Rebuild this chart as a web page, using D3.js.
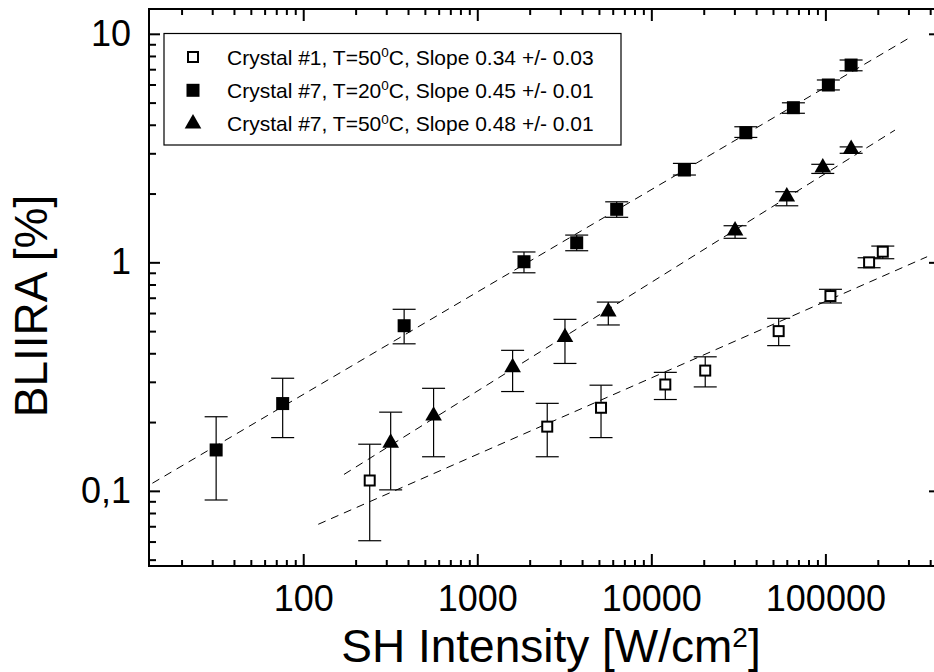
<!DOCTYPE html>
<meta charset="utf-8">
<script src="https://d3js.org/d3.v7.min.js"></script>
<style>
  body { margin: 0; background: #fff; }
  text { font-family: "Liberation Sans", Arial, sans-serif; fill: #000; }
</style>
<div id="chart"></div>
<script>

// Crystal #1, T=50C (open squares)
let c1X  = [241, 2523, 5140, 12030, 20400, 53900, 106900, 178300, 213700];
let c1Y  = [0.111, 0.191, 0.231, 0.292, 0.336, 0.500, 0.712, 1.00, 1.113];
let c1Lo = [0.0605, 0.141, 0.171, 0.251, 0.285, 0.432, 0.664, 0.947, 1.037];
let c1Hi = [0.160, 0.2415, 0.290, 0.330, 0.386, 0.569, 0.762, 1.047, 1.178];

// Crystal #7, T=20C (filled squares)
let c7aX  = [31.6, 76.2, 380, 1855, 3726, 6324, 15490, 34900, 65500, 104000, 140500];
let c7aY  = [0.151, 0.241, 0.528, 1.006, 1.218, 1.706, 2.535, 3.69, 4.75, 5.97, 7.30];
let c7aLo = [0.0912, 0.171, 0.44, 0.90, 1.124, 1.574, 2.41, 3.52, 4.49, 5.68, 6.89];
let c7aHi = [0.211, 0.311, 0.623, 1.11, 1.316, 1.84, 2.71, 3.92, 4.99, 6.28, 7.68];

// Crystal #7, T=50C (triangles)
let c7bX  = [318, 561, 1596, 3190, 5660, 30270, 60000, 96600, 140600];
let c7bY  = [0.162, 0.213, 0.347, 0.470, 0.608, 1.375, 1.937, 2.594, 3.13];
let c7bLo = [0.101, 0.141, 0.272, 0.361, 0.532, 1.274, 1.768, 2.449, 3.0];
let c7bHi = [0.221, 0.281, 0.412, 0.563, 0.670, 1.446, 2.037, 2.685, 3.2];

// fitted lines (end points)
let fit1X  = [122, 384000],  fit1Y  = [0.0714, 1.058];
let fit7aX = [13.6, 300000], fit7aY = [0.108, 9.55];
let fit7bX = [171.5, 251000], fit7bY = [0.118, 3.79];

let xMajor = [100, 1000, 10000, 100000];
let xLabels = ["100", "1000", "10000", "100000"];
let yMajor = [0.1, 1, 10];
let yLabels = ["0,1", "1", "10"];

let legendNames = [
  ["Crystal #1, T=50", "C, Slope 0.34 +/- 0.03"],
  ["Crystal #7, T=20", "C, Slope 0.45 +/- 0.01"],
  ["Crystal #7, T=50", "C, Slope 0.48 +/- 0.01"]
];

let W = 934, H = 672;
let margin = {top: 9, right: -2, bottom: 106, left: 149},
    width = W - margin.left - margin.right,
    height = H - margin.top - margin.bottom;

let svg = d3.select("#chart")
  .append("svg")
    .attr("width", W)
    .attr("height", H)
  .append("g")
    .attr("transform", "translate(" + margin.left + "," + margin.top + ")");

let x = d3.scaleLog().domain([13, 432000]).range([0, width]);
let y = d3.scaleLog().domain([0.0469, 12.84]).range([height, 0]);

let isMajor = function(v) { return Math.abs(Math.log10(v) - Math.round(Math.log10(v))) < 1e-9; };
let xMinor = x.ticks().filter(function(d) { return !isMajor(d); });
let yMinor = y.ticks().filter(function(d) { return !isMajor(d); });

function styleAxis(g) {
  g.select(".domain").remove();
  g.selectAll("line").attr("stroke", "#000").attr("stroke-width", 2);
}

// bottom axis
svg.append("g").attr("transform", "translate(0," + height + ")")
  .call(d3.axisBottom(x).tickValues(xMinor).tickSizeInner(-6).tickSizeOuter(0).tickFormat(""))
  .call(styleAxis);
svg.append("g").attr("transform", "translate(0," + height + ")")
  .call(d3.axisBottom(x).tickValues(xMajor).tickSizeInner(-12).tickSizeOuter(0).tickPadding(19)
        .tickFormat(function(d, i) { return xLabels[i]; }))
  .call(styleAxis)
  .selectAll("text").attr("font-size", 36);

// top axis
svg.append("g")
  .call(d3.axisTop(x).tickValues(xMinor).tickSizeInner(-6).tickSizeOuter(0).tickFormat(""))
  .call(styleAxis);
svg.append("g")
  .call(d3.axisTop(x).tickValues(xMajor).tickSizeInner(-12).tickSizeOuter(0).tickFormat(""))
  .call(styleAxis);

// left axis
svg.append("g")
  .call(d3.axisLeft(y).tickValues(yMinor).tickSizeInner(-7).tickSizeOuter(0).tickFormat(""))
  .call(styleAxis);
svg.append("g")
  .call(d3.axisLeft(y).tickValues(yMajor).tickSizeInner(-11).tickSizeOuter(0).tickPadding(18)
        .tickFormat(function(d, i) { return yLabels[i]; }))
  .call(styleAxis)
  .selectAll("text").attr("font-size", 36);

// right axis (major only)
svg.append("g").attr("transform", "translate(" + width + ",0)")
  .call(d3.axisRight(y).tickValues(yMajor).tickSizeInner(-7).tickSizeOuter(0).tickFormat(""))
  .call(styleAxis);

// frame
svg.append("rect")
  .attr("width", width).attr("height", height)
  .attr("fill", "none").attr("stroke", "#000").attr("stroke-width", 2);

// fit lines
let line = d3.line().x(function(d) { return x(d[0]); }).y(function(d) { return y(d[1]); });
[[fit1X, fit1Y], [fit7aX, fit7aY], [fit7bX, fit7bY]].forEach(function(f) {
  svg.append("path")
    .datum(d3.zip(f[0], f[1]))
    .attr("d", line)
    .attr("fill", "none")
    .attr("stroke", "#000")
    .attr("stroke-width", 1)
    .attr("stroke-dasharray", "8,6");
});

// error bars
function errorBars(xs, lo, hi) {
  let g = svg.append("g").attr("stroke", "#000").attr("stroke-width", 1.2);
  let cap = 11.5;
  xs.forEach(function(v, i) {
    g.append("line").attr("x1", x(v)).attr("x2", x(v)).attr("y1", y(lo[i])).attr("y2", y(hi[i]));
    g.append("line").attr("x1", x(v) - cap).attr("x2", x(v) + cap).attr("y1", y(lo[i])).attr("y2", y(lo[i]));
    g.append("line").attr("x1", x(v) - cap).attr("x2", x(v) + cap).attr("y1", y(hi[i])).attr("y2", y(hi[i]));
  });
}
errorBars(c1X, c1Lo, c1Hi);
errorBars(c7aX, c7aLo, c7aHi);
errorBars(c7bX, c7bLo, c7bHi);

// markers
let tri = d3.symbol().type(d3.symbolTriangle).size(120);

function openSquare(g, cx, cy) {
  g.append("rect").attr("x", cx - 5).attr("y", cy - 5).attr("width", 10).attr("height", 10)
    .attr("fill", "#fff").attr("stroke", "#000").attr("stroke-width", 2);
}
function filledSquare(g, cx, cy) {
  g.append("rect").attr("x", cx - 6.5).attr("y", cy - 6.5).attr("width", 13).attr("height", 13)
    .attr("fill", "#000");
}
function triangle(g, cx, cy) {
  g.append("path").attr("d", tri).attr("transform", "translate(" + cx + "," + cy + ")")
    .attr("fill", "#000");
}

let marks = svg.append("g");
c1X.forEach(function(v, i) { openSquare(marks, x(v), y(c1Y[i])); });
c7aX.forEach(function(v, i) { filledSquare(marks, x(v), y(c7aY[i])); });
c7bX.forEach(function(v, i) { triangle(marks, x(v), y(c7bY[i])); });

// legend
let leg = svg.append("g").attr("transform", "translate(" + (164 - margin.left) + "," + (33.5 - margin.top) + ")");
leg.append("rect").attr("width", 457).attr("height", 111.5)
  .attr("fill", "#fff").attr("stroke", "#000").attr("stroke-width", 1.2);
let drawers = [openSquare, filledSquare, triangle];
legendNames.forEach(function(n, i) {
  let cy = 23.5 + i * 33.3;
  drawers[i](leg, 29, cy);
  let t = leg.append("text").attr("x", 63).attr("y", cy + 7.5).attr("font-size", 21);
  t.append("tspan").text(n[0]);
  t.append("tspan").attr("font-size", 13.5).attr("dy", -7.5).text("0");
  t.append("tspan").attr("dy", 7.5).text(n[1]);
});

// axis titles
let xt = svg.append("text")
  .attr("x", 551 - margin.left).attr("y", 662 - margin.top)
  .attr("text-anchor", "middle").attr("font-size", 46);
xt.append("tspan").text("SH Intensity [W/cm");
xt.append("tspan").attr("font-size", 28).attr("dy", -15).text("2");
xt.append("tspan").attr("dy", 15).text("]");

svg.append("text")
  .attr("transform", "translate(" + (47 - margin.left) + "," + (306 - margin.top) + ") rotate(-90)")
  .attr("text-anchor", "middle").attr("font-size", 46)
  .text("BLIIRA [%]");

</script>
